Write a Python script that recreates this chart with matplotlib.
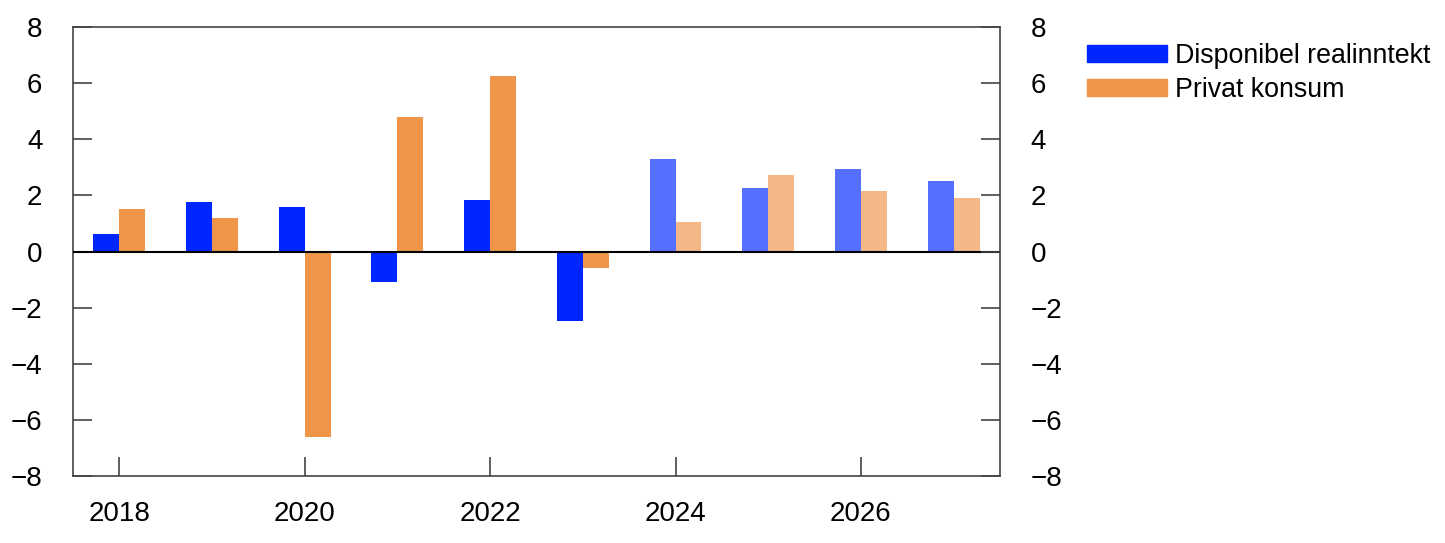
import matplotlib.pyplot as plt
import numpy as np
from matplotlib.patches import Patch

plt.rcParams['font.family'] = ['Liberation Sans', 'DejaVu Sans']

years = [2018, 2019, 2020, 2021, 2022, 2023, 2024, 2025, 2026, 2027]
inntekt = [0.64, 1.75, 1.6, -1.1, 1.85, -2.46, 3.31, 2.25, 2.96, 2.53]
konsum = [1.53, 1.2, -6.6, 4.81, 6.27, -0.6, 1.07, 2.74, 2.17, 1.92]
n_hist = 6  # from 2024 on, projections (lighter colour)

blue, blue_l = '#0026FF', '#5570FF'
orange, orange_l = '#EF954A', '#F3B886'

fig = plt.figure(figsize=(14.45, 5.43), dpi=100)
ax = fig.add_axes([0.0505, 0.1234, 0.6415, 0.8266])

x = np.array(years, dtype=float)
w = 0.28
bc = [blue if i < n_hist else blue_l for i in range(len(years))]
oc = [orange if i < n_hist else orange_l for i in range(len(years))]
ax.bar(x - w / 2, inntekt, w, color=bc, label='Disponibel realinntekt')
ax.bar(x + w / 2, konsum, w, color=oc, label='Privat konsum')
ax.axhline(0, color='black', lw=1.5, zorder=3)

ylabels = [str(v).replace('-', '\u2212') for v in range(-8, 9, 2)]
ax.set_xlim(2017.5, 2027.5)
ax.set_ylim(-8, 8)
ax.set_xticks([2018, 2020, 2022, 2024, 2026])
ax.set_yticks(range(-8, 9, 2))
ax.set_yticklabels(ylabels)
ax.tick_params(axis='both', direction='in', labelsize=20, color='#444444', length=14, width=1.2)
ax.tick_params(axis='x', pad=18)
ax.tick_params(axis='y', pad=22)
for s in ax.spines.values():
    s.set_color('#444444')
    s.set_linewidth(1.2)

ax2 = ax.twinx()
ax2.set_ylim(-8, 8)
ax2.set_yticks(range(-8, 9, 2))
ax2.set_yticklabels(ylabels)
ax2.tick_params(axis='y', direction='in', labelsize=20, color='#444444', length=14, width=1.2, pad=22)
for s in ax2.spines.values():
    s.set_visible(False)

labels = ['Disponibel realinntekt', 'Privat konsum']
handles = [Patch(color=blue), Patch(color=orange)]
fig.legend(handles, labels, loc='upper left', bbox_to_anchor=(0.7446, 0.94), frameon=False,
           fontsize=19.3, handlelength=3.0, handleheight=0.6, handletextpad=0.3, labelspacing=0.3,
           borderaxespad=0)

fig.savefig('out.png', dpi=100)
